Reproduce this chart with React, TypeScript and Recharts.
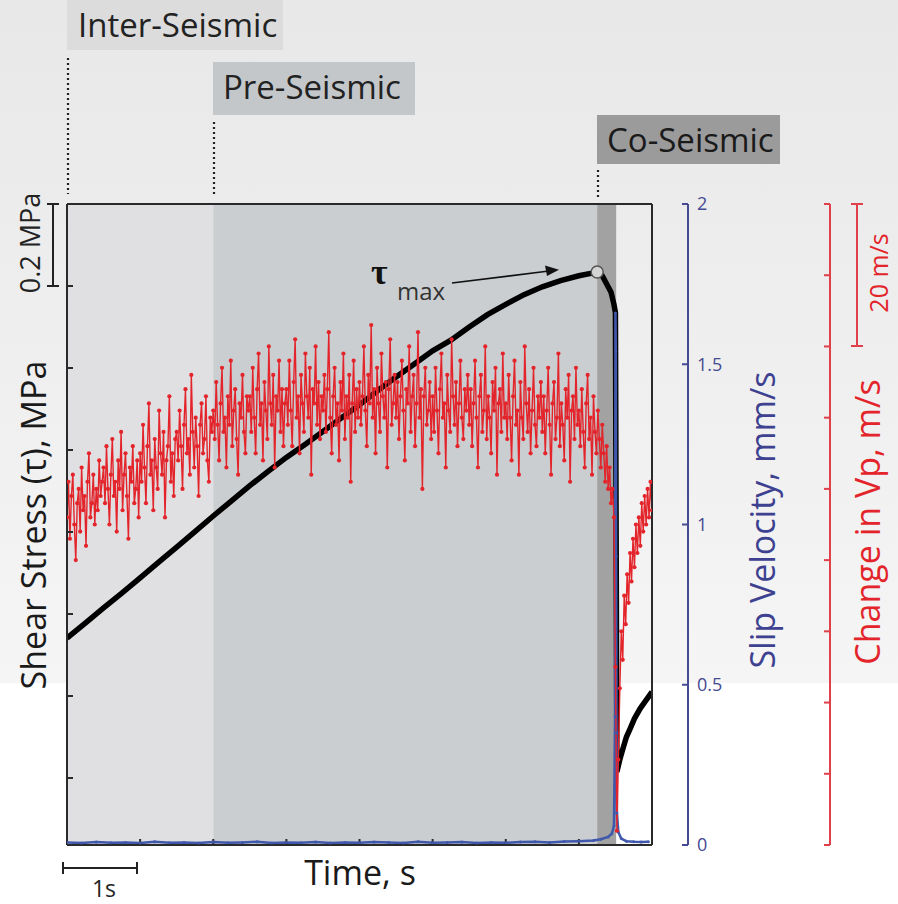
import { LineChart, Line, XAxis, YAxis, ReferenceArea, ReferenceDot } from "recharts";

const FONT = '"Open Sans", "Noto Sans", sans-serif';

// shear stress trace (time in s, stress in MPa)
const stressTime = [
  0, 0.25, 0.5, 0.75, 1.0, 1.25, 1.5, 1.75, 2.0, 2.25, 2.5, 2.75, 3.0, 3.25, 3.5, 3.75,
  4.0, 4.25, 4.5, 4.75, 5.0, 5.25, 5.5, 5.75, 6.0, 6.25, 6.5, 6.75, 7.0, 7.25, 7.32, 7.38,
  7.44, 7.48, 7.5, 7.52, 7.56, 7.6, 7.65, 7.7, 7.76, 7.84, 7.92, 8.0,
];
const stressMPa = [
  0.541, 0.578, 0.615, 0.651, 0.688, 0.726, 0.763, 0.801, 0.839, 0.876, 0.913, 0.948, 0.982, 1.013, 1.045, 1.078,
  1.11, 1.145, 1.178, 1.21, 1.242, 1.268, 1.3, 1.33, 1.355, 1.379, 1.398, 1.413, 1.425, 1.434, 1.425, 1.405,
  1.385, 1.355, 1.335, 0.215, 0.245, 0.27, 0.3, 0.32, 0.345, 0.37, 0.39, 0.41,
];

// change in Vp (m/s on the 0-90 axis), one sample every 0.02 s from t = 0
const vpStep = 0.02;
const vpChange = [
  46, 51, 43, 49, 52, 45, 40, 48, 50, 44, 53, 47, 49, 42, 51, 55, 46, 48, 52, 45, 50, 47, 54, 49, 51,
  53, 48, 56, 50, 45, 52, 57, 49, 51, 44, 54, 50, 58, 47, 52, 55, 49, 43, 53, 51, 56, 48, 50, 54, 46,
  55, 51, 59, 53, 48, 56, 62, 52, 54, 47, 57, 53, 50, 61, 55, 52, 58, 46, 54, 56, 63, 51, 55, 49, 57,
  58, 54, 61, 56, 50, 59, 64, 55, 57, 52, 66, 58, 53, 60, 56, 49, 59, 62, 55, 57, 63, 54, 51, 60, 58,
  61, 57, 65, 59, 54, 62, 67, 58, 60, 53, 63, 59, 68, 56, 61, 64, 57, 52, 62, 60, 66, 58, 55, 63, 61,
  63, 58, 67, 60, 55, 64, 69, 59, 62, 54, 65, 61, 57, 70, 62, 59, 66, 53, 63, 61, 68, 58, 64, 56, 62,
  64, 59, 68, 61, 56, 65, 71, 60, 63, 55, 66, 62, 58, 69, 63, 60, 67, 52, 64, 62, 70, 59, 65, 57, 63,
  61, 66, 58, 64, 72, 60, 55, 63, 67, 59, 62, 54, 65, 61, 69, 57, 63, 60, 66, 51, 62, 68, 58, 64, 60,
  65, 59, 63, 70, 61, 56, 66, 62, 73, 60, 64, 55, 67, 62, 58, 69, 63, 60, 65, 53, 64, 71, 59, 62, 66,
  60, 65, 57, 63, 68, 61, 54, 64, 62, 70, 58, 63, 66, 56, 62, 72, 60, 64, 50, 63, 67, 59, 61, 65, 57,
  63, 58, 67, 61, 55, 64, 69, 60, 62, 53, 66, 61, 58, 71, 63, 59, 65, 56, 62, 68, 60, 57, 64, 61, 66,
  59, 64, 56, 62, 68, 60, 53, 63, 66, 58, 61, 70, 57, 63, 60, 55, 65, 61, 67, 52, 62, 64, 58, 69, 60,
  62, 57, 66, 60, 54, 63, 68, 59, 61, 52, 65, 60, 57, 70, 62, 58, 64, 55, 61, 67, 59, 56, 63, 60, 65,
  58, 63, 55, 61, 67, 59, 52, 62, 65, 57, 60, 69, 56, 62, 59, 54, 64, 60, 66, 51, 61, 63, 57, 67, 59,
  61, 56, 64, 58, 53, 62, 66, 57, 60, 52, 63, 58, 55, 61, 57, 53, 59, 55, 51, 56, 50, 53, 48, 50, 46,
  25, 2, 12, 22, 30, 26, 35, 31, 38, 34, 41, 37, 43, 39, 45, 41, 46, 42, 48, 44, 49, 45, 50, 46, 51, 47,
];

// slip velocity (mm/s)
const slipTime = [
  0, 0.2, 0.4, 0.6, 0.8, 1.0, 1.2, 1.4, 1.6, 1.8, 2.0, 2.2, 2.4, 2.6, 2.8, 3.0, 3.2, 3.4,
  3.6, 3.8, 4.0, 4.2, 4.4, 4.6, 4.8, 5.0, 5.2, 5.4, 5.6, 5.8, 6.0, 6.2, 6.4, 6.6, 6.8, 7.0,
  7.2, 7.3, 7.4, 7.45, 7.48, 7.495, 7.5, 7.505, 7.51, 7.515, 7.52, 7.54, 7.58, 7.65, 7.75, 7.85, 7.95,
];
const slipVel = [
  0.008, 0.006, 0.009, 0.007, 0.008, 0.006, 0.01, 0.007, 0.008, 0.006, 0.009, 0.007, 0.008, 0.01, 0.006, 0.008, 0.007, 0.009,
  0.006, 0.008, 0.007, 0.009, 0.008, 0.006, 0.01, 0.007, 0.008, 0.009, 0.006, 0.008, 0.007, 0.009, 0.01, 0.008, 0.011, 0.012,
  0.014, 0.018, 0.025, 0.035, 0.06, 0.4, 1.66, 1.54, 0.9, 0.35, 0.1, 0.04, 0.02, 0.012, 0.01, 0.009, 0.01,
];

const phases = [
  { name: "Inter-Seismic", from: 0, to: 2, fill: "#e0e0e2" },
  { name: "Pre-Seismic", from: 2, to: 7.25, fill: "#cbced1" },
  { name: "Co-Seismic", from: 7.25, to: 7.51, fill: "#a2a2a2" },
];

const timeTicks = [0, 1, 2, 3, 4, 5, 6, 7, 8];
const stressTicks = [0.2, 0.4, 0.6, 0.8, 1.0, 1.2, 1.4, 1.6];
const slipTicks = [0, 0.5, 1, 1.5, 2];
const vpTicks = [0, 10, 20, 30, 40, 50, 60, 70, 80, 90];

const stressData = stressTime.map((t, i) => ({ t, tau: stressMPa[i] }));
const vpData = vpChange.map((v, i) => ({ t: i * vpStep, vp: v }));
const slipData = slipTime.map((t, i) => ({ t, v: slipVel[i] }));

const maxIdx = stressMPa.indexOf(Math.max(...stressMPa));

const DARK = "#2a2a2a";
const BLUE = "#3f58ab";
const BLUE_AXIS = "#454a92";
const RED = "#e3242b";
const RED_AXIS = "#e0404a";

const blank = () => "";

export default function App() {
  return (
    <div style={{ position: "absolute", left: 0, top: 0, width: 898, height: 904, overflow: "hidden" }}>
      {/* page background */}
      <svg width={898} height={904} style={{ position: "absolute", left: 0, top: 0 }}>
        <defs>
          <linearGradient id="bg" x1="0" y1="0" x2="0" y2="1">
            <stop offset="0%" stopColor="#e8e8e8" />
            <stop offset="100%" stopColor="#f5f5f5" />
          </linearGradient>
        </defs>
        <rect x={0} y={0} width={898} height={904} fill="#ffffff" />
        <rect x={0} y={0} width={898} height={683} fill="url(#bg)" />
      </svg>

      <div style={{ position: "absolute", left: 0, top: 0 }}>
        <LineChart width={898} height={904} margin={{ top: 203, right: 0, bottom: 58, left: 66 }}>
          <XAxis
            xAxisId="time"
            type="number"
            dataKey="t"
            domain={[0, 8]}
            ticks={timeTicks}
            allowDataOverflow
            height={1}
            tickSize={-6}
            tickFormatter={blank}
            stroke={DARK}
            strokeWidth={2}
          />
          <XAxis
            xAxisId="timeTop"
            orientation="top"
            type="number"
            domain={[0, 8]}
            ticks={timeTicks}
            allowDataOverflow
            height={1}
            tickSize={-6}
            tickFormatter={blank}
            stroke={DARK}
            strokeWidth={2}
          />
          <YAxis
            yAxisId="tau"
            type="number"
            domain={[0.0366, 1.6]}
            ticks={stressTicks}
            allowDataOverflow
            width={1}
            tickSize={-6}
            tickFormatter={blank}
            stroke={DARK}
            strokeWidth={2}
          />
          <YAxis
            yAxisId="frame"
            orientation="right"
            type="number"
            domain={[0, 1]}
            ticks={[0, 1]}
            width={36}
            tickLine={false}
            tick={false}
            stroke={DARK}
            strokeWidth={2}
          />
          <YAxis
            yAxisId="slip"
            orientation="right"
            type="number"
            domain={[0, 2]}
            ticks={slipTicks}
            allowDataOverflow
            width={142}
            tickSize={-6}
            tickMargin={15}
            stroke={BLUE_AXIS}
            strokeWidth={2}
            tick={{ fill: BLUE_AXIS, fontSize: 18, fontFamily: FONT }}
          />
          <YAxis
            yAxisId="vp"
            orientation="right"
            type="number"
            domain={[0, 90]}
            ticks={vpTicks}
            allowDataOverflow
            width={68}
            tickSize={-6}
            tickFormatter={blank}
            stroke={RED_AXIS}
            strokeWidth={2}
          />

          {phases.map((p) => (
            <ReferenceArea
              key={p.name}
              xAxisId="time"
              yAxisId="tau"
              x1={p.from}
              x2={p.to}
              fill={p.fill}
              fillOpacity={1}
              stroke="none"
            />
          ))}

          <Line
            data={stressData}
            xAxisId="time"
            yAxisId="tau"
            dataKey="tau"
            type="linear"
            stroke="#000"
            strokeWidth={5.5}
            dot={false}
            isAnimationActive={false}
          />
          <Line
            data={slipData}
            xAxisId="time"
            yAxisId="slip"
            dataKey="v"
            type="linear"
            stroke={BLUE}
            strokeWidth={2.5}
            dot={{ r: 1.5, fill: BLUE, stroke: "none" }}
            isAnimationActive={false}
          />
          <Line
            data={vpData}
            xAxisId="time"
            yAxisId="vp"
            dataKey="vp"
            type="linear"
            stroke={RED}
            strokeWidth={1.4}
            dot={{ r: 2.1, fill: RED, stroke: "none" }}
            isAnimationActive={false}
          />
          <ReferenceDot
            xAxisId="time"
            yAxisId="tau"
            x={stressTime[maxIdx]}
            y={stressMPa[maxIdx]}
            r={6}
            fill="#d4d4d4"
            stroke="#555"
            strokeWidth={1.5}
          />
        </LineChart>
      </div>

      {/* annotations */}
      <svg
        width={898}
        height={904}
        style={{ position: "absolute", left: 0, top: 0, pointerEvents: "none" }}
        fontFamily={FONT}
      >
        {/* phase labels */}
        <rect x={67} y={0} width={216} height={50} fill="#dcdcdc" />
        <text x={78} y={37} fontSize={33} fill="#222">Inter-Seismic</text>
        <rect x={213} y={62} width={202} height={53} fill="#c4c7ca" />
        <text x={223} y={99} fontSize={33} fill="#222">Pre-Seismic</text>
        <rect x={597} y={115} width={183} height={49} fill="#9b9b9b" />
        <text x={607} y={152} fontSize={33} fill="#1a1a1a">Co-Seismic</text>
        <line x1={68} y1={58} x2={68} y2={194} stroke="#222" strokeWidth={2.2} strokeDasharray="2 3" />
        <line x1={214} y1={122} x2={214} y2={196} stroke="#222" strokeWidth={2.2} strokeDasharray="2 3" />
        <line x1={598} y1={170} x2={598} y2={200} stroke="#222" strokeWidth={2.2} strokeDasharray="2 3" />

        {/* tau max */}
        <text x={371} y={284} fontSize={36} fontWeight="bold" fontFamily='"Liberation Serif", "DejaVu Serif", serif' fill="#111">τ</text>
        <text x={397} y={300} fontSize={24} fill="#333">max</text>
        <line x1={452} y1={283} x2={547} y2={271.3} stroke="#111" strokeWidth={1.6} />
        <polygon points="559,269.8 545,265.5 547,276" fill="#111" />

        {/* left stress scale */}
        <line x1={53} y1={204} x2={53} y2={286} stroke="#222" strokeWidth={2} />
        <line x1={47} y1={204} x2={59} y2={204} stroke="#222" strokeWidth={2} />
        <line x1={47} y1={286} x2={59} y2={286} stroke="#222" strokeWidth={2} />
        <text x={40} y={243} fontSize={27} fill="#222" textAnchor="middle" transform="rotate(-90 40 243)">0.2 MPa</text>
        <text x={46} y={525} fontSize={34} fill="#1a1a1a" textAnchor="middle" transform="rotate(-90 46 525)">Shear Stress (τ), MPa</text>

        {/* right labels */}
        <text x={775} y={520} fontSize={34} fill="#3d418f" textAnchor="middle" transform="rotate(-90 775 520)">Slip Velocity, mm/s</text>
        <text x={880} y={522} fontSize={34} fill={RED} textAnchor="middle" transform="rotate(-90 880 522)">Change in Vp, m/s</text>
        <line x1={857} y1={204} x2={857} y2={346} stroke={RED_AXIS} strokeWidth={2} />
        <line x1={851} y1={204} x2={863} y2={204} stroke={RED_AXIS} strokeWidth={2} />
        <line x1={851} y1={346} x2={863} y2={346} stroke={RED_AXIS} strokeWidth={2} />
        <text x={888} y={273} fontSize={25} fill={RED} textAnchor="middle" transform="rotate(-90 888 273)">20 m/s</text>

        {/* time */}
        <text x={360} y={885} fontSize={34} fill="#1a1a1a" textAnchor="middle">Time, s</text>
        <line x1={63} y1={868} x2={137} y2={868} stroke="#222" strokeWidth={2} />
        <line x1={63} y1={862} x2={63} y2={874} stroke="#222" strokeWidth={2} />
        <line x1={137} y1={862} x2={137} y2={874} stroke="#222" strokeWidth={2} />
        <text x={104} y={897} fontSize={23} fill="#222" textAnchor="middle">1s</text>
      </svg>
    </div>
  );
}
